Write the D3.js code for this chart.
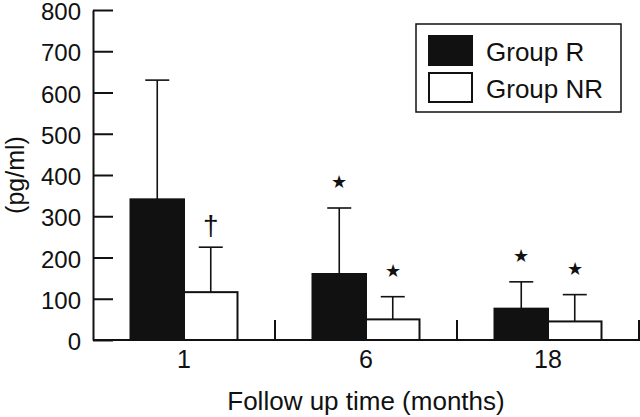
<!DOCTYPE html>
<html>
<head>
    <style>
        body { margin: 0; background: #fff; }
        text { font-family: "Liberation Sans", Arial, sans-serif; fill: #111; }
    </style>
    <script src="https://d3js.org/d3.v7.min.js"></script>
</head>
<body>
    <svg width="640" height="417"></svg>
    <script>
        // values (pg/ml)
        const months = ["1", "6", "18"]
        const groups = ["Group R", "Group NR"]
        const meanR = [341, 160, 76]
        const meanNR = [116, 50, 45]
        const errR = [630, 320, 141]      // top of error bar
        const errNR = [225, 105, 110]
        const markR = ["", "★", "★"]
        const markNR = ["†", "★", "★"]
        const yTicks = [0, 100, 200, 300, 400, 500, 600, 700, 800]

        const svg = d3.select("svg")
        const ink = "#111"

        const x = d3.scaleBand().domain(months).range([93, 639])
        const xg = d3.scaleBand().domain(groups).range([37.5, x.bandwidth() - 37.5])
        const y = d3.scaleLinear().domain([0, 800]).range([340, 10])

        const rows = []
        months.forEach((m, i) => {
            rows.push({ m, g: groups[0], v: meanR[i], e: errR[i], mark: markR[i] })
            rows.push({ m, g: groups[1], v: meanNR[i], e: errNR[i], mark: markNR[i] })
        })

        // y axis, ticks pointing inward
        const yAxis = svg.append("g")
            .attr("transform", "translate(93,0)")
            .call(d3.axisLeft(y).tickValues(yTicks).tickSizeInner(-20).tickSizeOuter(0).tickPadding(12))
        yAxis.select(".domain").attr("stroke", ink).attr("stroke-width", 2)
        yAxis.selectAll(".tick line").attr("stroke", ink).attr("stroke-width", 2)
        yAxis.selectAll(".tick text").style("font-size", "24px").attr("fill", ink).attr("dy", "0.4em")

        // error bars (drawn first so bars cover the stem)
        const err = svg.append("g").attr("stroke", ink).attr("stroke-width", 1.6)
        rows.forEach(d => {
            const cx = x(d.m) + xg(d.g) + xg.bandwidth() / 2
            err.append("line").attr("x1", cx).attr("x2", cx).attr("y1", y(d.v)).attr("y2", y(d.e))
            err.append("line").attr("x1", cx - 12).attr("x2", cx + 12).attr("y1", y(d.e)).attr("y2", y(d.e))
        })

        // bars
        svg.append("g").selectAll("rect").data(rows).join("rect")
            .attr("x", d => x(d.m) + xg(d.g))
            .attr("y", d => y(d.v))
            .attr("width", xg.bandwidth())
            .attr("height", d => y(0) - y(d.v))
            .attr("fill", d => d.g === groups[0] ? ink : "#fff")
            .attr("stroke", ink)
            .attr("stroke-width", 2)

        // significance marks
        svg.append("g").selectAll("text").data(rows.filter(d => d.mark)).join("text")
            .attr("x", d => x(d.m) + xg(d.g) + xg.bandwidth() / 2)
            .attr("y", d => y(d.e) - (d.mark === "†" ? 12 : 20))
            .attr("text-anchor", "middle")
            .style("font-size", d => d.mark === "†" ? "28px" : "18px")
            .text(d => d.mark)

        // x axis with separator ticks between groups
        const xAxis = svg.append("g").attr("transform", "translate(0,340)")
        xAxis.append("line").attr("x1", 93).attr("x2", 640).attr("stroke", ink).attr("stroke-width", 2)
        months.forEach(m => {
            const bx = x(m) + x.bandwidth()
            xAxis.append("line").attr("x1", bx).attr("x2", bx).attr("y1", 0).attr("y2", -20)
                .attr("stroke", ink).attr("stroke-width", 2)
        })
        xAxis.selectAll("text").data(months).join("text")
            .attr("x", d => x(d) + x.bandwidth() / 2)
            .attr("y", 28)
            .attr("text-anchor", "middle")
            .style("font-size", "25px")
            .text(d => d)

        svg.append("text")
            .attr("x", 366).attr("y", 410)
            .attr("text-anchor", "middle")
            .style("font-size", "26px")
            .text("Follow up time (months)")

        svg.append("text")
            .attr("transform", "translate(24,175) rotate(-90)")
            .attr("text-anchor", "middle")
            .style("font-size", "25px")
            .text("(pg/ml)")

        // legend
        const lg = svg.append("g").attr("transform", "translate(416,24)")
        lg.append("rect").attr("width", 205).attr("height", 88)
            .attr("fill", "#fff").attr("stroke", ink).attr("stroke-width", 1.5)
        groups.forEach((g, i) => {
            lg.append("rect").attr("x", 13).attr("y", 12 + i * 37).attr("width", 43).attr("height", 29)
                .attr("fill", i === 0 ? ink : "#fff").attr("stroke", ink).attr("stroke-width", 2)
            lg.append("text").attr("x", 70).attr("y", 37 + i * 37)
                .style("font-size", "26px").text(g)
        })
    </script>
</body>
</html>
